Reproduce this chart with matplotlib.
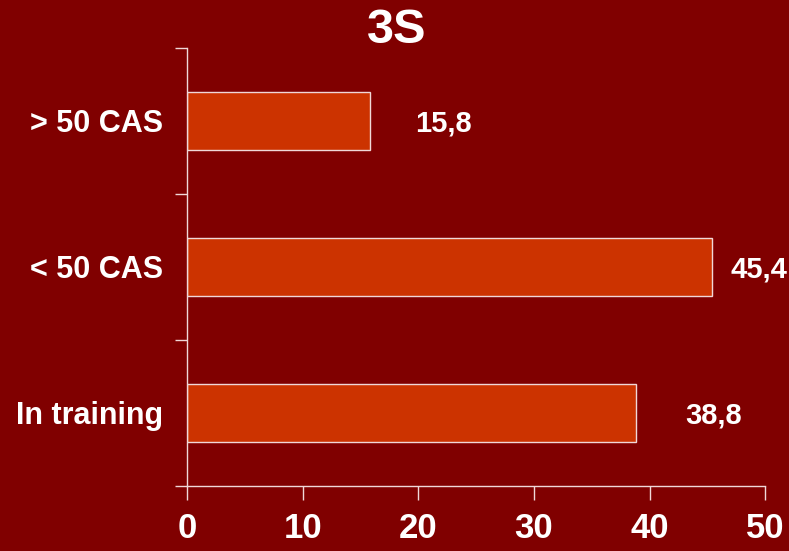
import matplotlib.pyplot as plt

# data, bottom to top
categories = ["In training", "< 50 CAS", "> 50 CAS"]
values = [38.8, 45.4, 15.8]
value_labels = ["38,8", "45,4", "15,8"]
label_offsets = [4.3, 1.6, 3.9]
x_ticks = [0, 10, 20, 30, 40, 50]

bg = "#800000"
bar_color = "#CC3300"
line_color = "#F0D8D8"

plt.rcParams["font.family"] = ["Liberation Sans", "DejaVu Sans"]

fig = plt.figure(figsize=(7.89, 5.51), dpi=100, facecolor=bg)
ax = fig.add_axes([0.237, 0.118, 0.733, 0.795])
ax.set_facecolor(bg)

ypos = range(len(categories))
ax.barh(ypos, values, height=0.4, color=bar_color, edgecolor=line_color, linewidth=1)

for y, v, lab, off in zip(ypos, values, value_labels, label_offsets):
    ax.text(v + off, y - 0.02, lab, ha="left", va="center", color="white",
            fontsize=21, fontweight="bold", clip_on=False)

ax.set_xlim(0, 50)
ax.set_ylim(-0.5, 2.5)
ax.set_xticks(x_ticks)
ax.set_xticklabels([str(t) for t in x_ticks], fontsize=25, fontweight="bold", color="white")
ax.set_yticks([i for i in ypos])
ax.set_yticklabels(categories, fontsize=22, fontweight="bold", color="white")
ax.set_yticks([-0.5, 0.5, 1.5, 2.5], minor=True)

ax.tick_params(axis="x", direction="out", length=10, width=1, color=line_color, pad=9)
ax.tick_params(axis="y", which="major", length=0, pad=17)
ax.tick_params(axis="y", which="minor", direction="out", length=9, width=1, color=line_color)

for side in ["top", "right"]:
    ax.spines[side].set_visible(False)
for side in ["left", "bottom"]:
    ax.spines[side].set_color(line_color)
    ax.spines[side].set_linewidth(1)

fig.suptitle("3S", x=0.503, y=0.985, fontsize=35, fontweight="bold", color="white")

fig.savefig("out.png", dpi=100, facecolor=bg)
